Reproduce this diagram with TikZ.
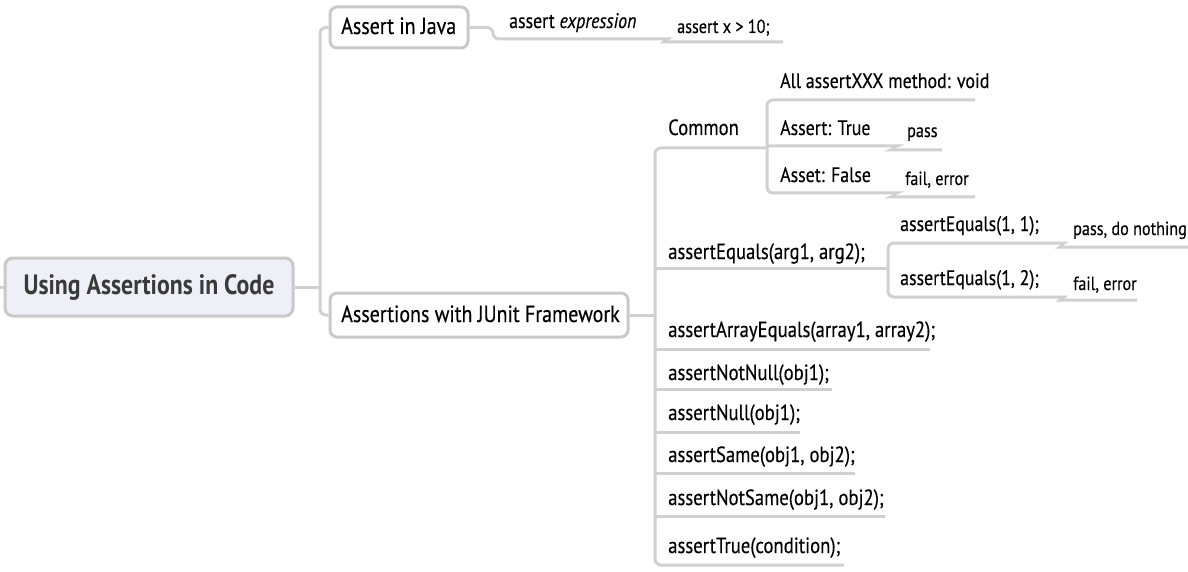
\documentclass[tikz,border=0pt]{standalone}
\usepackage{fontspec}
\setmainfont[FakeStretch=0.85, UprightFeatures={FakeBold=0.35}, ItalicFeatures={FakeBold=0.35}]{PT Sans}
\definecolor{lineGray}{HTML}{D0D0D0}
\definecolor{boxGray}{HTML}{C9C9C9}
\definecolor{rootFill}{HTML}{EFF0F7}
\definecolor{rootText}{HTML}{3A3A3A}
\begin{document}
\begin{tikzpicture}[x=1pt,y=-1pt,
  conn/.style={draw=lineGray, line width=3pt, rounded corners=6pt},
  rootbox/.style={draw=boxGray, line width=3pt, fill=rootFill, rounded corners=8pt,
    minimum width=288pt, minimum height=58pt, inner sep=0pt,
    font=\fontsize{28}{32}\selectfont\bfseries, text=rootText},
  topicbox/.style={draw=boxGray, line width=3pt, fill=white, rounded corners=7pt,
    inner sep=0pt, font=\fontsize{23.5}{27}\selectfont},
  topictext/.style={anchor=base west, inner sep=0pt, font=\fontsize{23.5}{27}\selectfont},
  lthree/.style={anchor=base west, inner sep=0pt, font=\fontsize{22}{25}\selectfont},
  lfour/.style={anchor=base west, inner sep=0pt, font=\fontsize{21}{24}\selectfont},
  lfive/.style={anchor=base west, inner sep=0pt, font=\fontsize{19}{22}\selectfont}]
\useasboundingbox (0,0) rectangle (1188,572);

% main nodes
\node[rootbox] (root) at (149,287) {Using Assertions in Code};
\node[topicbox, minimum width=138pt, minimum height=41pt] (java) at (399,27.5) {};
\node[topictext] (javaT) at (341,34) {Assert in Java};
\node[topicbox, minimum width=298pt, minimum height=44pt] (junit) at (479,315) {};
\node[topictext] (junitT) at (341,322) {Assertions with JUnit Framework};

% left stub and first trunk
\coordinate (lstub) at (0,287);
\draw[conn] (lstub) -- (root.west);
\coordinate (t1) at (320,287);
\draw[conn] (root.east) -- (t1);
\draw[conn] (t1) |- (java.west);
\draw[conn] (t1) |- (junit.west);

% Assert in Java branch
\node[lfour] (aexpr) at (509,28) {assert \textit{expression}};
\node[lfive] (ax) at (677,33) {assert x > 10;};
\coordinate (axU) at (783,42);
\draw[conn] (java.east) -- (493,27.5) |- (662,39)
  .. controls (667,39) and (665,42) .. (670,42) -- (axU);

% JUnit trunk
\coordinate (t2) at (655,315);
\draw[conn] (junit.east) -- (t2);
\coordinate (cU) at (767,148);
\coordinate (eqU) at (888,268);
\coordinate (arrU) at (930,349);
\coordinate (nnU) at (832,389);
\coordinate (nuU) at (800,432);
\coordinate (smU) at (855,473);
\coordinate (nsU) at (885,516);
\coordinate (trU) at (844,565);
\draw[conn] (cU) -| (t2) |- (trU);
\foreach \c in {eqU,arrU,nnU,nuU,smU,nsU}{
  \draw[conn] (t2 |- \c) -- (\c);
}
\node[lthree] (common) at (668,135) {Common};
\node[lthree] (aeq) at (668,259) {assertEquals(arg1, arg2);};
\node[lthree] (aarr) at (668,337) {assertArrayEquals(array1, array2);};
\node[lthree] (ann) at (668,380) {assertNotNull(obj1);};
\node[lthree] (anu) at (668,420) {assertNull(obj1);};
\node[lthree] (asm) at (668,462) {assertSame(obj1, obj2);};
\node[lthree] (ans) at (668,505) {assertNotSame(obj1, obj2);};
\node[lthree] (atr) at (668,553) {assertTrue(condition);};

% Common subtree
\coordinate (allU) at (975,100);
\coordinate (t3) at (767,146);
\coordinate (failU) at (975,197);
\coordinate (passU) at (942,150);
\draw[conn] (allU) -| (t3) |- (891,193)
  .. controls (895,193) and (893,197) .. (897,197) -- (failU);
\draw[conn] (t3) -- (891,146)
  .. controls (895,146) and (893,150) .. (897,150) -- (passU);
\node[lfour] (allv) at (780,88) {All assertXXX method: void};
\node[lfour] (atrue) at (780,135) {Assert: True};
\node[lfour] (afalse) at (780,182) {Asset: False};
\node[lfive] (pass) at (907,137) {pass};
\node[lfive] (fail) at (905,185) {fail, error};

% assertEquals subtree
\coordinate (pdnU) at (1188,247);
\coordinate (fe2U) at (1137,300);
\draw[conn] (pdnU) -- (1066,247) .. controls (1061,247) and (1063,243) .. (1058,243)
  -| (eqU) |- (1058,297) .. controls (1063,297) and (1061,300) .. (1066,300) -- (fe2U);
\node[lfour] (eq11) at (900,231) {assertEquals(1, 1);};
\node[lfour] (eq12) at (900,285) {assertEquals(1, 2);};
\node[lfive] (pdn) at (1073,235) {pass, do nothing};
\node[lfive] (fe2) at (1073,290) {fail, error};
\end{tikzpicture}
\end{document}
